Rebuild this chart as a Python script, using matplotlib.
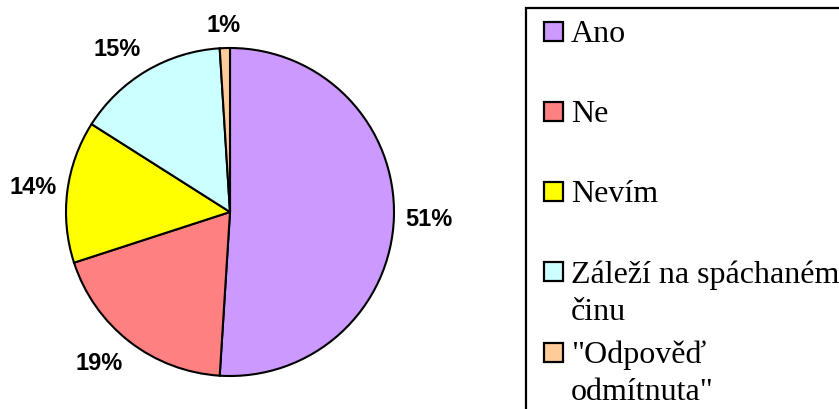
import matplotlib
matplotlib.use("Agg")
import numpy as np
import matplotlib.pyplot as plt
from matplotlib.patches import Rectangle
from matplotlib.transforms import offset_copy

categories = ["Ano", "Ne", "Nevím", "Záleží na spáchaném\nčinu", "\"Odpověď\nodmítnuta\""]
values = [51, 19, 14, 15, 1]
colors = ["#CC99FF", "#FF8080", "#FFFF00", "#CCFFFF", "#FFCC99"]

W, H = 839, 410
fig = plt.figure(figsize=(W / 100, H / 100), dpi=100)

def fx(x):
    return x / W

def fy(y):
    return 1 - y / H

# Pie axes: centre (230, 213) px, radius 164 px
cx, cy, r = 230, 213, 164
lim = 1.4
size = 2 * r * lim
ax = fig.add_axes([(cx - size / 2) / W, (H - cy - size / 2) / H, size / W, size / H])
wedges, _ = ax.pie(values, colors=colors, startangle=90, counterclock=False,
                   wedgeprops=dict(edgecolor="black", linewidth=1.5))
ax.set_xlim(-lim, lim)
ax.set_ylim(-lim, lim)
ax.set_aspect("equal")
ax.axis("off")

renderer = fig.canvas.get_renderer()
anchor = 175 / r
half_h = 12.7
for w, v in zip(wedges, values):
    ang = np.deg2rad((w.theta1 + w.theta2) / 2)
    c, s = np.cos(ang), np.sin(ang)
    t = ax.text(anchor * c, anchor * s, f"{v}%", family="Liberation Sans",
                fontweight="bold", fontsize=17, ha="center", va="center")
    half_w = t.get_window_extent(renderer).width / 2
    t.set_transform(offset_copy(ax.transData, fig=fig,
                                x=np.clip(2 * c, -1, 1) * half_w,
                                y=np.clip(2 * s, -1, 1) * half_h, units="dots"))

# Legend box
fig.patches.append(Rectangle((fx(526), fy(420)), fx(860) - fx(526), fy(9) - fy(420),
                             transform=fig.transFigure, fill=False, edgecolor="black",
                             linewidth=1.6, clip_on=False))

first_baseline = 42
row_gap = 80.25
line_gap = 37
sq = 20
for i, (lab, col) in enumerate(zip(categories, colors)):
    b = first_baseline + i * row_gap
    fig.patches.append(Rectangle((fx(543.5), fy(b - 0.5)), (sq - 1) / W, (sq - 1) / H,
                                 transform=fig.transFigure, facecolor=col,
                                 edgecolor="black", linewidth=1.6))
    for j, line in enumerate(lab.split("\n")):
        fig.text(fx(571), fy(b + j * line_gap), line, family="Liberation Serif",
                 fontsize=23, ha="left", va="baseline")

fig.savefig("out.png", dpi=100)
